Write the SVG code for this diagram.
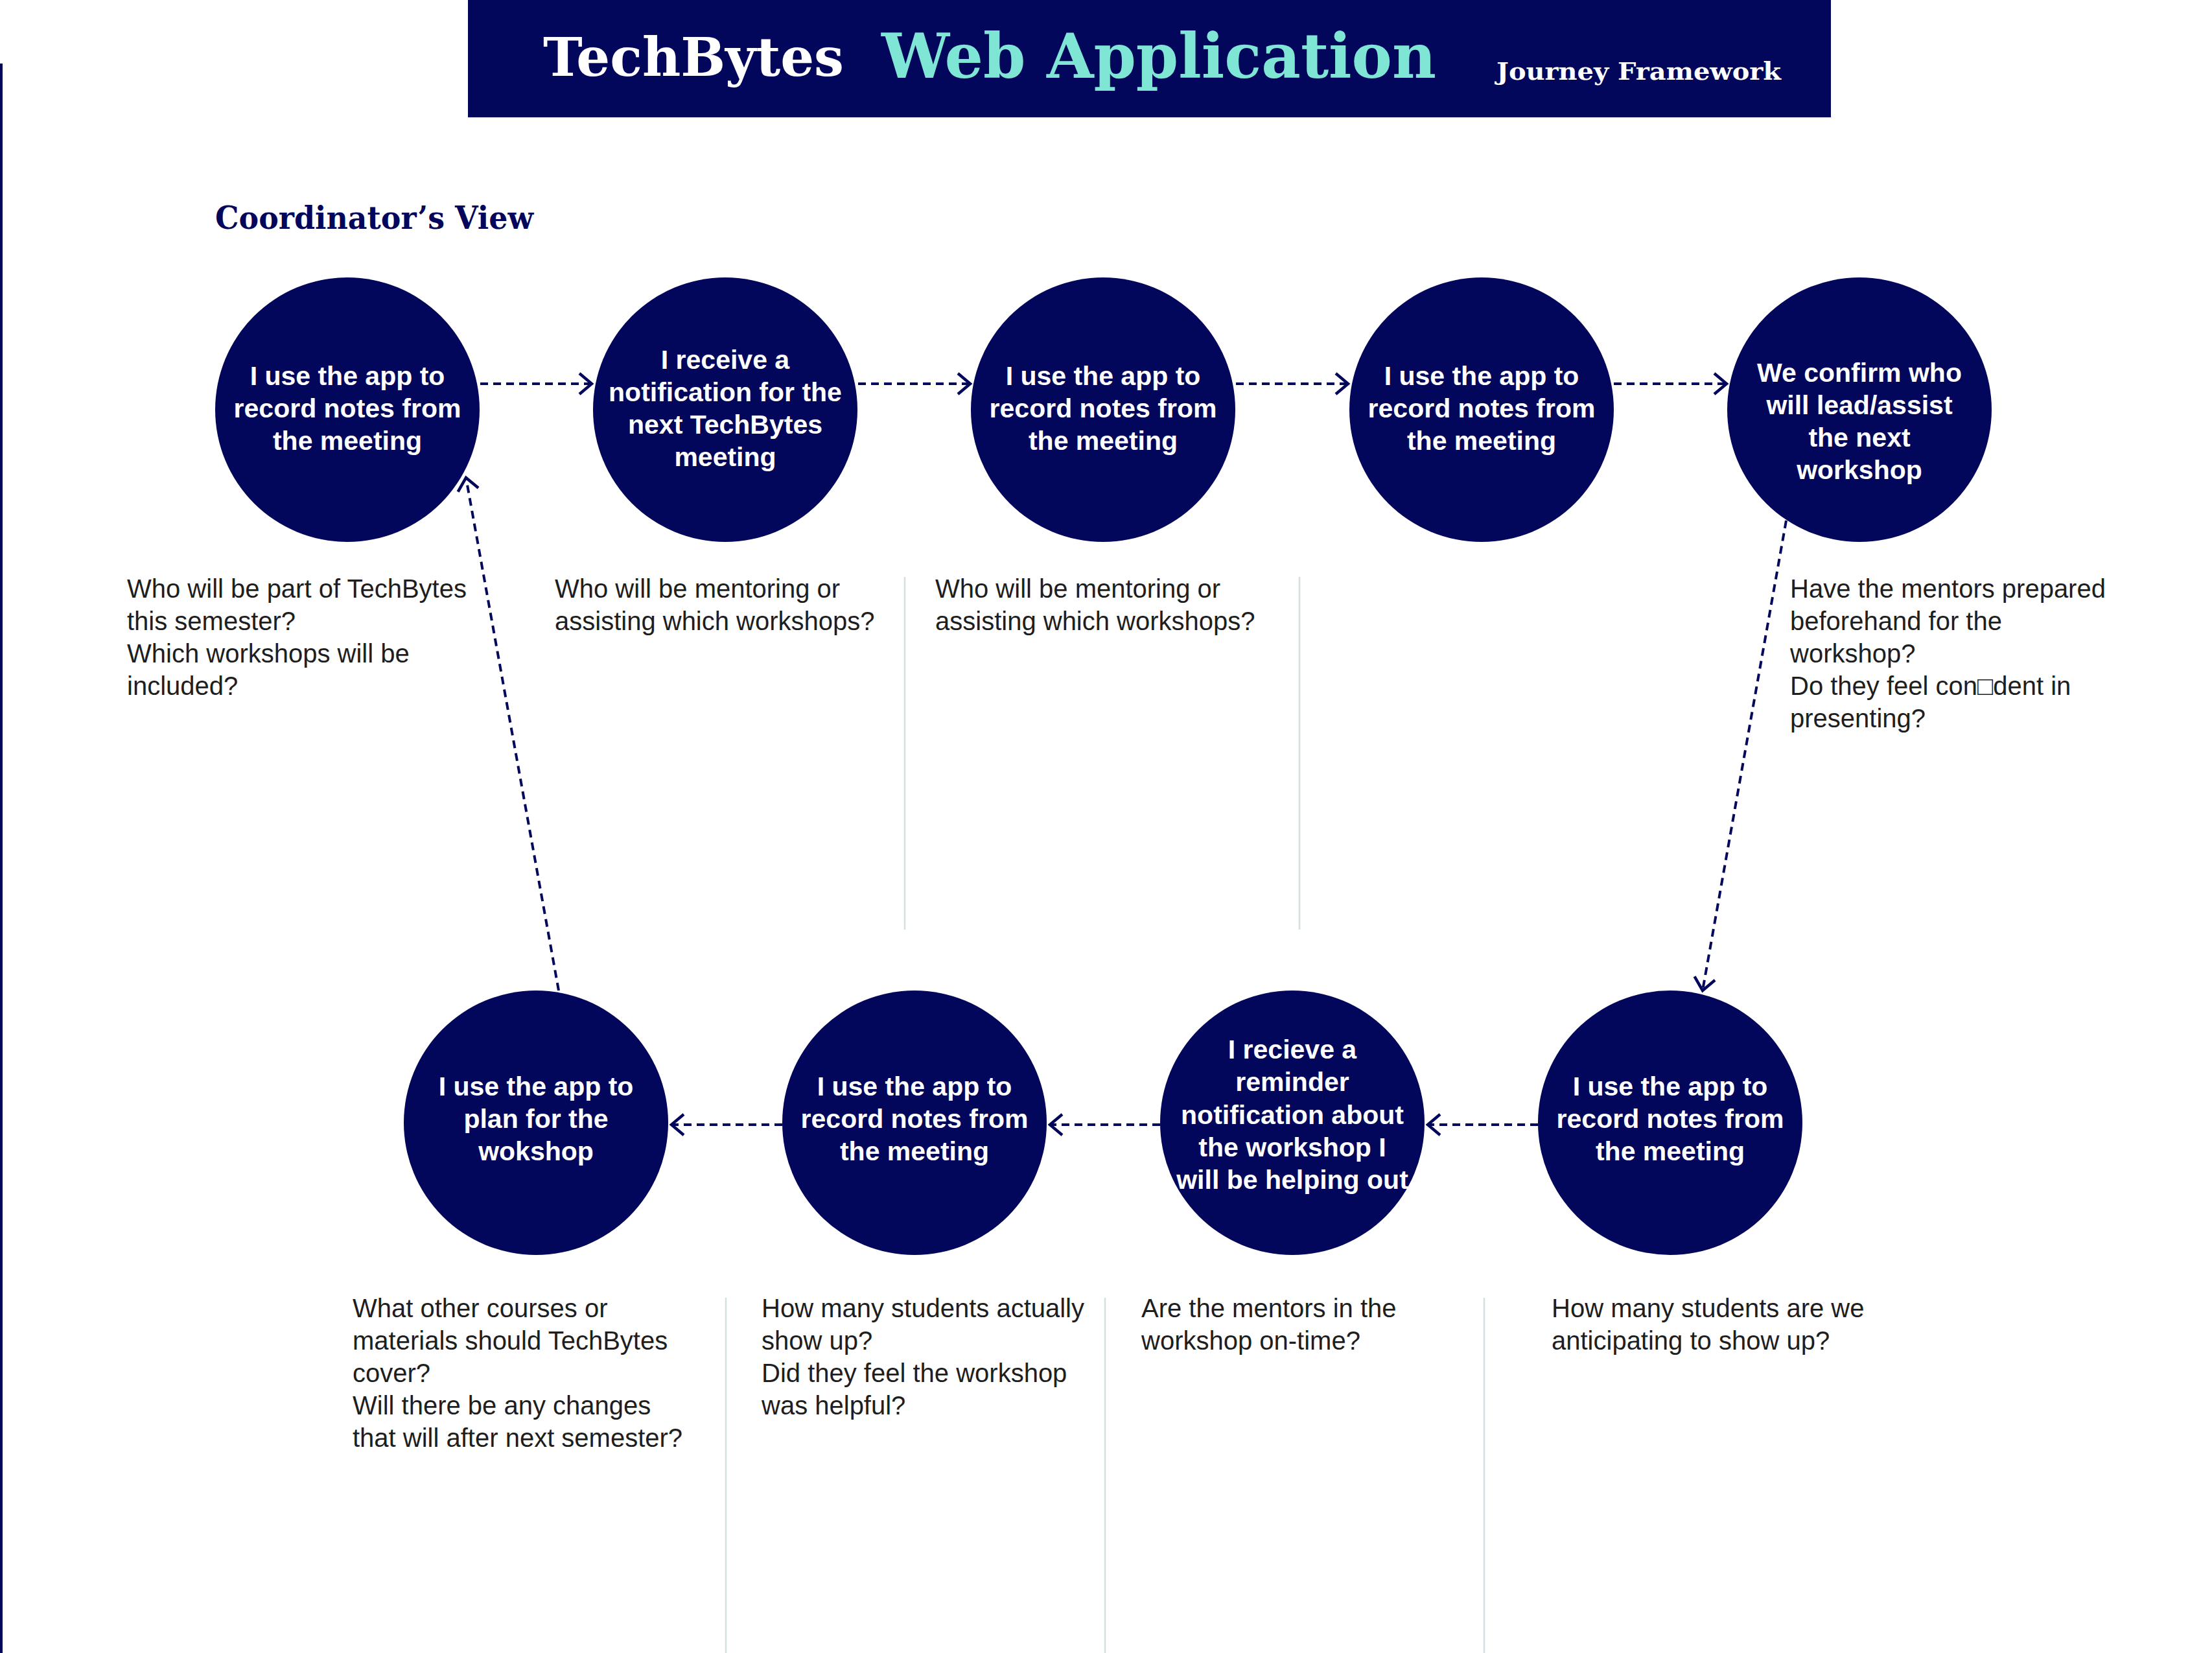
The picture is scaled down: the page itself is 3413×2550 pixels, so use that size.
<svg xmlns="http://www.w3.org/2000/svg" width="3413" height="2550" viewBox="0 0 3413 2550">
<defs>
<style>
.node{fill:#03075b}
.nt{font-family:"Liberation Sans",Arial,sans-serif;font-weight:bold;font-size:41px;fill:#ffffff;text-anchor:middle}
.q{font-family:"Liberation Sans",Arial,sans-serif;font-size:40px;fill:#1e1e1e}
.sep{stroke:#d4dfe1;stroke-width:2.5}
.conn{fill:none;stroke:#03075b;stroke-width:4;stroke-dasharray:12 8}
.title{font-family:"DejaVu Serif","Liberation Serif",serif;font-weight:bold}
</style>
<marker id="chev" markerUnits="userSpaceOnUse" markerWidth="40" markerHeight="40" viewBox="-24 -20 28 40" refX="0" refY="0" orient="auto">
<path d="M-19,-16 L0,0 L-19,16" fill="none" stroke="#03075b" stroke-width="4.5" stroke-dasharray="none"/>
</marker>
</defs>
<rect width="3413" height="2550" fill="#ffffff"/>
<rect x="0" y="98" width="4" height="2452" fill="#03075b"/>
<g id="header">
<rect x="722" y="0" width="2103" height="181" fill="#03075b"/>
<text class="title" x="838" y="117" font-size="82" fill="#ffffff" textLength="464" lengthAdjust="spacingAndGlyphs">TechBytes</text>
<text class="title" x="1360" y="120" font-size="96" fill="#7fe6d6" textLength="856" lengthAdjust="spacingAndGlyphs">Web Application</text>
<text class="title" x="2309" y="123" font-size="38" fill="#ffffff" textLength="439" lengthAdjust="spacingAndGlyphs">Journey Framework</text>
</g>
<text class="title" x="332" y="353" font-size="48" fill="#03075b" textLength="491" lengthAdjust="spacingAndGlyphs">Coordinator’s View</text>
<g id="separators">
<line class="sep" x1="1396" y1="890" x2="1396" y2="1434"/>
<line class="sep" x1="2005" y1="890" x2="2005" y2="1434"/>
<line class="sep" x1="1120" y1="2002" x2="1120" y2="2550"/>
<line class="sep" x1="1705" y1="2002" x2="1705" y2="2550"/>
<line class="sep" x1="2290" y1="2002" x2="2290" y2="2550"/>
</g>
<g id="connectors">
<line class="conn" x1="741" y1="592" x2="913" y2="592" marker-end="url(#chev)"/>
<line class="conn" x1="1324" y1="592" x2="1497" y2="592" marker-end="url(#chev)"/>
<line class="conn" x1="1907" y1="592" x2="2080" y2="592" marker-end="url(#chev)"/>
<line class="conn" x1="2490" y1="592" x2="2664" y2="592" marker-end="url(#chev)"/>
<line class="conn" x1="2756" y1="803" x2="2627" y2="1528" marker-end="url(#chev)"/>
<line class="conn" x1="2373" y1="1735" x2="2203" y2="1735" marker-end="url(#chev)"/>
<line class="conn" x1="1790" y1="1735" x2="1620" y2="1735" marker-end="url(#chev)"/>
<line class="conn" x1="1207" y1="1735" x2="1036" y2="1735" marker-end="url(#chev)"/>
<line class="conn" x1="862" y1="1528" x2="719" y2="737" marker-end="url(#chev)"/>
</g>
<g id="n1">
<circle class="node" cx="536" cy="632" r="204"/>
<text class="nt" x="536" y="594">I use the app to</text>
<text class="nt" x="536" y="644">record notes from</text>
<text class="nt" x="536" y="694">the meeting</text>
</g>
<g id="n2">
<circle class="node" cx="1119" cy="632" r="204"/>
<text class="nt" x="1119" y="569">I receive a</text>
<text class="nt" x="1119" y="619">notification for the</text>
<text class="nt" x="1119" y="669">next TechBytes</text>
<text class="nt" x="1119" y="719">meeting</text>
</g>
<g id="n3">
<circle class="node" cx="1702" cy="632" r="204"/>
<text class="nt" x="1702" y="594">I use the app to</text>
<text class="nt" x="1702" y="644">record notes from</text>
<text class="nt" x="1702" y="694">the meeting</text>
</g>
<g id="n4">
<circle class="node" cx="2286" cy="632" r="204"/>
<text class="nt" x="2286" y="594">I use the app to</text>
<text class="nt" x="2286" y="644">record notes from</text>
<text class="nt" x="2286" y="694">the meeting</text>
</g>
<g id="n5">
<circle class="node" cx="2869" cy="632" r="204"/>
<text class="nt" x="2869" y="589">We confirm who</text>
<text class="nt" x="2869" y="639">will lead/assist</text>
<text class="nt" x="2869" y="689">the next</text>
<text class="nt" x="2869" y="739">workshop</text>
</g>
<g id="n6">
<circle class="node" cx="2577" cy="1732" r="204"/>
<text class="nt" x="2577" y="1690">I use the app to</text>
<text class="nt" x="2577" y="1740">record notes from</text>
<text class="nt" x="2577" y="1790">the meeting</text>
</g>
<g id="n7">
<circle class="node" cx="1994" cy="1732" r="204"/>
<text class="nt" x="1994" y="1633">I recieve a</text>
<text class="nt" x="1994" y="1683">reminder</text>
<text class="nt" x="1994" y="1734">notification about</text>
<text class="nt" x="1994" y="1784">the workshop I</text>
<text class="nt" x="1994" y="1834">will be helping out</text>
</g>
<g id="n8">
<circle class="node" cx="1411" cy="1732" r="204"/>
<text class="nt" x="1411" y="1690">I use the app to</text>
<text class="nt" x="1411" y="1740">record notes from</text>
<text class="nt" x="1411" y="1790">the meeting</text>
</g>
<g id="n9">
<circle class="node" cx="827" cy="1732" r="204"/>
<text class="nt" x="827" y="1690">I use the app to</text>
<text class="nt" x="827" y="1740">plan for the</text>
<text class="nt" x="827" y="1790">wokshop</text>
</g>
<g id="questions">
<text class="q" x="196" y="922">Who will be part of TechBytes</text>
<text class="q" x="196" y="972">this semester?</text>
<text class="q" x="196" y="1022">Which workshops will be</text>
<text class="q" x="196" y="1072">included?</text>
<text class="q" x="856" y="922">Who will be mentoring or</text>
<text class="q" x="856" y="972">assisting which workshops?</text>
<text class="q" x="1443" y="922">Who will be mentoring or</text>
<text class="q" x="1443" y="972">assisting which workshops?</text>
<text class="q" x="2762" y="922">Have the mentors prepared</text>
<text class="q" x="2762" y="972">beforehand for the</text>
<text class="q" x="2762" y="1022">workshop?</text>
<text class="q" x="2762" y="1072">Do they feel con□dent in</text>
<text class="q" x="2762" y="1122">presenting?</text>
<text class="q" x="544" y="2032">What other courses or</text>
<text class="q" x="544" y="2082">materials should TechBytes</text>
<text class="q" x="544" y="2132">cover?</text>
<text class="q" x="544" y="2182">Will there be any changes</text>
<text class="q" x="544" y="2232">that will after next semester?</text>
<text class="q" x="1175" y="2032">How many students actually</text>
<text class="q" x="1175" y="2082">show up?</text>
<text class="q" x="1175" y="2132">Did they feel the workshop</text>
<text class="q" x="1175" y="2182">was helpful?</text>
<text class="q" x="1761" y="2032">Are the mentors in the</text>
<text class="q" x="1761" y="2082">workshop on-time?</text>
<text class="q" x="2394" y="2032">How many students are we</text>
<text class="q" x="2394" y="2082">anticipating to show up?</text>
</g>
</svg>
